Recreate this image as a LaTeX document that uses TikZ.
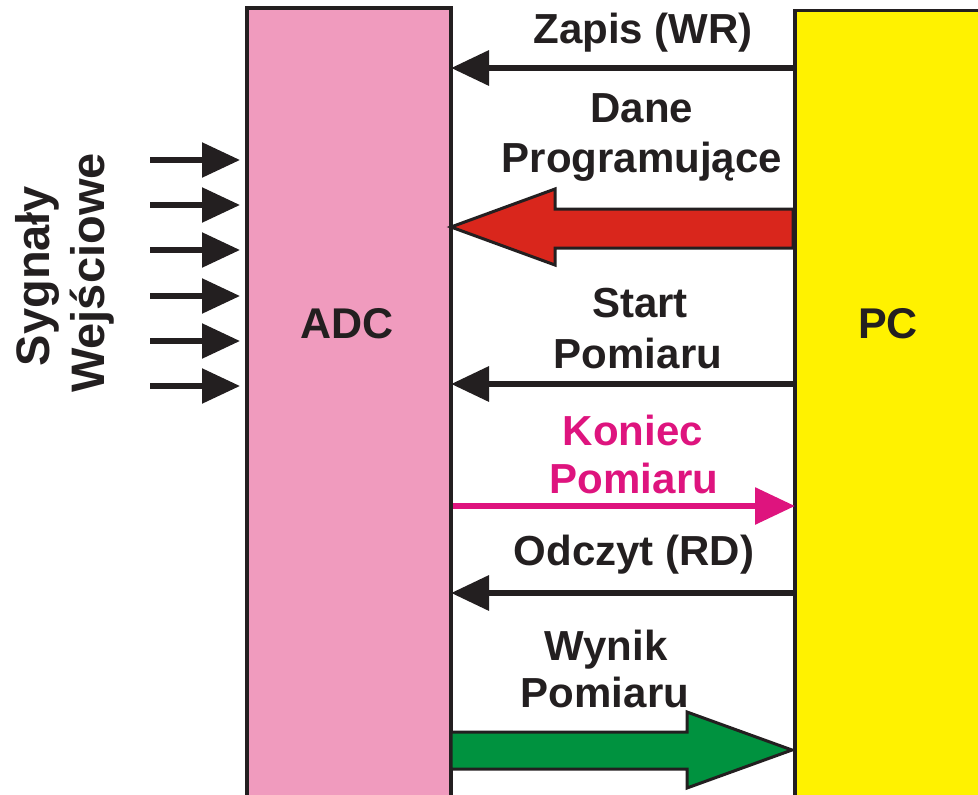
\documentclass[tikz,border=0pt]{standalone}
\usepackage{fontspec}
\setmainfont{Liberation Sans}
\usetikzlibrary{arrows.meta}
\definecolor{ink}{RGB}{35,31,32}
\definecolor{adcpink}{RGB}{240,155,190}
\definecolor{pcyellow}{RGB}{255,242,0}
\definecolor{fatred}{RGB}{217,38,28}
\definecolor{fatgreen}{RGB}{0,146,63}
\definecolor{endmag}{RGB}{222,20,126}
\begin{document}
\begin{tikzpicture}[x=1pt,y=-1pt,
  box/.style={draw=ink, inner sep=0pt, outer sep=0pt, anchor=north west},
  lbl/.style={font=\fontsize{42}{50}\selectfont\bfseries, text=ink, anchor=base, inner sep=0pt},
  side/.style={font=\fontsize{47}{55}\selectfont\bfseries, text=ink, anchor=base, inner sep=0pt, rotate=90},
  sig/.style={draw=ink, line width=6.5pt, -{Triangle[length=38pt,width=34pt]}},
  insig/.style={draw=ink, line width=5.5pt, -{Triangle[length=38pt,width=34pt]}},
  endsig/.style={draw=endmag, line width=6pt, -{Triangle[length=40pt,width=36pt]}},
  fat/.style={draw=ink, line width=3pt, line join=miter}]
\useasboundingbox (0,0) rectangle (978,795);
\clip (0,0) rectangle (978,795);
% boxes
\node[box, line width=4pt, fill=adcpink, minimum width=204pt, minimum height=843pt] (adc) at (247,7.5) {};
\node[box, line width=3.5pt, fill=pcyellow, minimum width=250pt, minimum height=850pt] (pc) at (795,10.5) {};
\node[lbl, font=\fontsize{43}{50}\selectfont\bfseries] (adclabel) at (347,338) {ADC};
\node[lbl, font=\fontsize{43}{50}\selectfont\bfseries] (pclabel) at (888,338) {PC};
% side label
\node[side] (syg) at (49,276) {Sygnały};
\node[side] (wej) at (104,273) {Wejściowe};
% input arrows
\foreach \yy in {160,205,250,296,341,386}
  \draw[insig] (150,\yy) -- ([xshift=-7pt]adc.west |- 0,\yy);
% row coordinates
\coordinate (wr) at (620,68);
\coordinate (st) at (620,384);
\coordinate (ko) at (620,506);
\coordinate (rd) at (620,593);
% Zapis
\node[lbl] (zapis) at (643,43) {Zapis (WR)};
\draw[sig] (pc.west |- wr) -- (adc.east |- wr);
% Dane programujace
\node[lbl] (dane) at (642,122) {Dane};
\node[lbl] (prog) at (642,172) {Programujące};
\draw[fat, fill=fatred] ([xshift=-2pt]pc.west |- 0,209) -- (555,209) -- (555,189)
  -- (adc.east |- 0,227) -- (555,265) -- (555,248) -- ([xshift=-2pt]pc.west |- 0,248) -- cycle;
% Start pomiaru
\node[lbl] (start) at (640,317) {Start};
\node[lbl] (pom1) at (638,368) {Pomiaru};
\draw[sig] (pc.west |- st) -- (adc.east |- st);
% Koniec pomiaru
\node[lbl, text=endmag] (koniec) at (633,445) {Koniec};
\node[lbl, text=endmag] (pom2) at (634,493) {Pomiaru};
\draw[endsig] ([xshift=2pt]adc.east |- ko) -- (pc.west |- ko);
% Odczyt
\node[lbl] (odczyt) at (634,565) {Odczyt (RD)};
\draw[sig] (pc.west |- rd) -- (adc.east |- rd);
% Wynik pomiaru
\node[lbl] (wynik) at (606,660) {Wynik};
\node[lbl] (pom3) at (605,707) {Pomiaru};
\draw[fat, fill=fatgreen] (adc.east |- 0,732) -- (687,732) -- (687,712)
  -- ([xshift=-3pt]pc.west |- 0,750) -- (687,788) -- (687,769) -- (adc.east |- 0,769) -- cycle;
\end{tikzpicture}
\end{document}
